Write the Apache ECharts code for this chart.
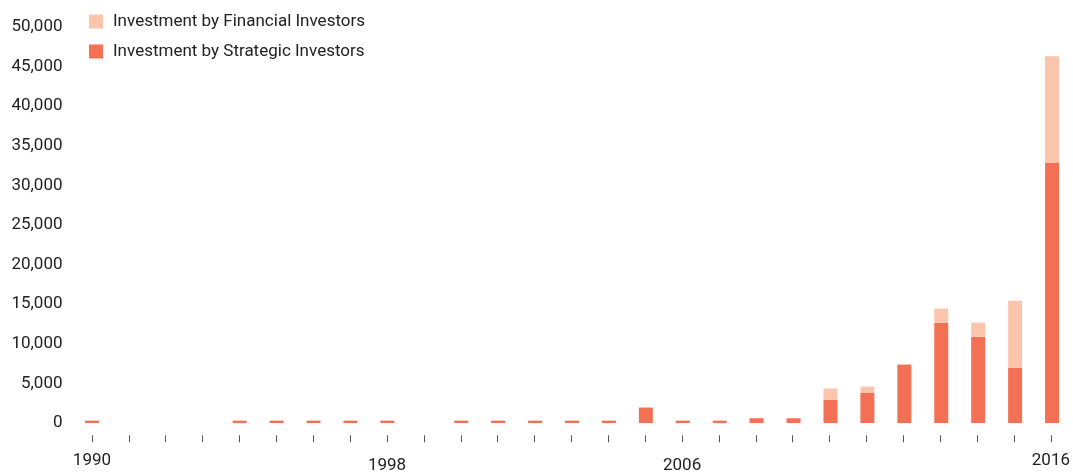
<!DOCTYPE html>
<html><head><meta charset="utf-8">
<script src="https://cdn.jsdelivr.net/npm/echarts@6/dist/echarts.min.js"></script>
<style>html,body{margin:0;padding:0;background:#fff}#c{width:1073px;height:473px}</style>
</head><body><div id="c"></div>
<script>
const years = ['1990','1991','1992','1993','1994','1995','1996','1997','1998','1999','2000','2001','2002','2003','2004','2005','2006','2007','2008','2009','2010','2011','2012','2013','2014','2015','2016'];
const strategic = [300,0,0,0,300,300,300,300,300,0,300,300,300,300,300,1950,300,300,600,600,2960,3850,7380,12670,10900,7000,32900];
const financial = [0,0,0,0,0,0,0,0,0,0,0,0,0,0,0,0,0,0,0,0,1390,750,0,1770,1770,8450,13400];
const yTicks = {min:0, max:50000, interval:5000};
const shownLabels = ['1990','1998','2006','2016'];
const lowered = ['1998','2006'];

const chart = echarts.init(document.getElementById('c'), null, {renderer:'canvas'});
const font = 'Roboto';
const txt = '#222';
chart.setOption({
  animation:false,
  textStyle:{fontFamily:font},
  legend:{
    orient:'vertical', left:84, top:8, itemWidth:14, itemHeight:14, itemGap:13,
    icon:'rect',
    data:['Investment by Financial Investors','Investment by Strategic Investors'],
    textStyle:{fontFamily:font,fontSize:17,color:txt,padding:[0,0,0,5]}
  },
  grid:[
    {left:73.5, right:2.5, top:27, bottom:50},
    {left:73.5, right:2.5, top:435, bottom:37}
  ],
  xAxis:[
    {type:'category', data:years, gridIndex:0, show:true,
     axisLine:{show:false}, axisTick:{show:false}, axisLabel:{show:false}},
    {type:'category', data:years, gridIndex:1,
     axisLine:{show:false},
     axisTick:{show:true, alignWithLabel:true, interval:0, length:7, lineStyle:{color:'#555',width:1}},
     axisLabel:{
       interval:function(i,v){return shownLabels.indexOf(v)>=0;},
       margin:17, fontSize:17, color:txt, fontFamily:font,
       formatter:function(v){return lowered.indexOf(v)>=0 ? '{l|'+v+'}' : '{n|'+v+'}';},
       rich:{l:{fontSize:17,color:txt,fontFamily:font,padding:[5,0,0,0]}, n:{fontSize:17,color:txt,fontFamily:font}}
     }}
  ],
  yAxis:[
    {type:'value', gridIndex:0, min:yTicks.min, max:yTicks.max, interval:yTicks.interval,
     axisLine:{show:false}, axisTick:{show:false}, splitLine:{show:false},
     axisLabel:{fontSize:17, color:txt, margin:11, fontFamily:font, padding:[0,0,3,0],
       formatter:function(v){return v.toLocaleString('en-US');}}},
    {type:'value', gridIndex:1, show:false}
  ],
  series:[
    {name:'Investment by Strategic Investors', type:'bar', stack:'a', barWidth:14, data:strategic, itemStyle:{color:'#F37055'}},
    {name:'Investment by Financial Investors', type:'bar', stack:'a', barWidth:14, data:financial, itemStyle:{color:'#FBC5AD'}}
  ]
});
</script></body></html>
